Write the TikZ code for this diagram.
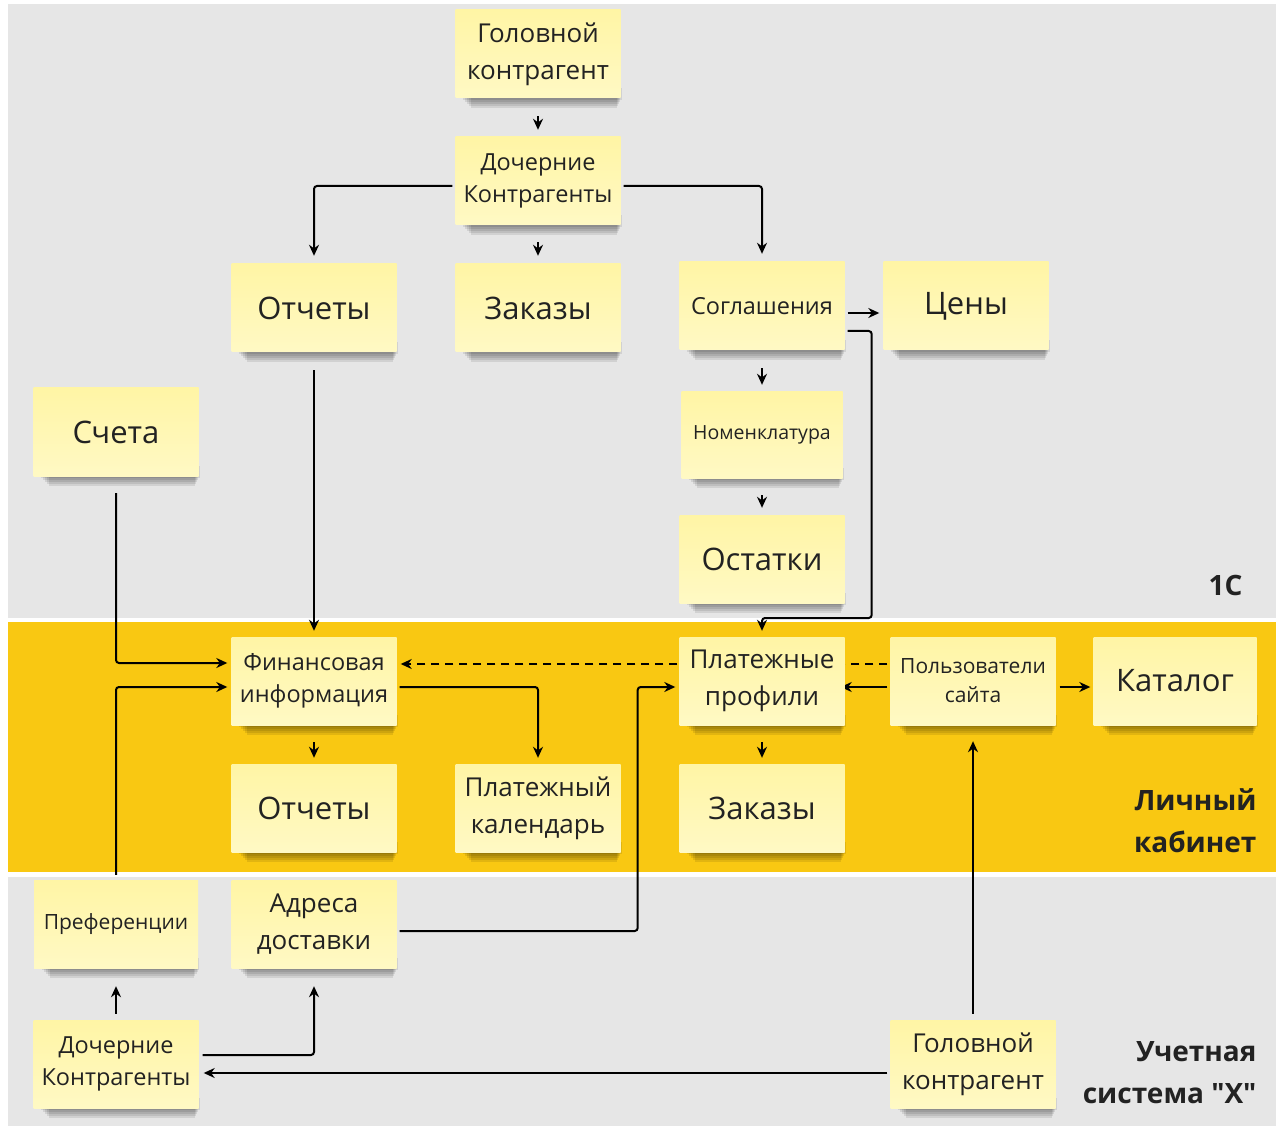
\documentclass[tikz,border=0pt]{standalone}
\usepackage{fontspec}
\setmainfont{Open Sans}
\newfontfamily\lblfont{Open Sans}[Ligatures=TeXOff]
\usetikzlibrary{arrows.meta}
\definecolor{bandgray}{RGB}{230,230,230}
\definecolor{bandyellow}{RGB}{249,200,18}
\definecolor{notetop}{RGB}{255,245,165}
\definecolor{notebot}{RGB}{255,249,196}
\definecolor{txt}{RGB}{34,34,34}
\pgfdeclarelayer{bands}
\pgfdeclarelayer{shade}
\pgfdeclarelayer{links}
\pgfsetlayers{bands,shade,links,main}
\tikzset{
  note/.style={rectangle, minimum width=165pt, minimum height=88pt, inner sep=0pt,
    top color=notetop, bottom color=notebot, align=center, text=txt},
  fxl/.style={font=\fontsize{31}{38}\selectfont},
  fl/.style={font=\fontsize{26}{37}\selectfont},
  fm/.style={font=\fontsize{23.5}{32}\selectfont},
  fs/.style={font=\fontsize{21}{29}\selectfont},
  fxs/.style={font=\fontsize{19.5}{24}\selectfont},
  link/.style={line width=2pt, draw=black, rounded corners=3pt, -{Stealth[length=11pt,width=10pt]}},
  dashlink/.style={line width=2pt, draw=black, dash pattern=on 8pt off 6pt, -{Stealth[length=11pt,width=10pt]}},
  bandlabel/.style={font=\lblfont\bfseries\fontsize{28}{42}\selectfont, text=txt, align=right, anchor=east},
  shadowpart/.style={fill=black, opacity=0.09}
}
\begin{document}
\begin{tikzpicture}[x=1pt,y=-1pt]
\useasboundingbox (0,0) rectangle (1280,1131);
\begin{pgfonlayer}{bands}
\fill[white] (0,0) rectangle (1280,1131);
\fill[bandgray] (8,4) rectangle (1276,618);
\fill[bandyellow] (8,622) rectangle (1276,872);
\fill[bandgray] (8,877) rectangle (1276,1126);
\end{pgfonlayer}

\node[bandlabel] (l1) at (1246,585) {1С};
\node[bandlabel] (l2) at (1260,821) {Личный\\кабинет};
\node[bandlabel] (l3) at (1260,1073) {Учетная\\система "X"};

\node[note,fl] (hk1) at (538,54) {Головной\\контрагент};
\node[note,fm] (dk1) at (538,181) {Дочерние\\Контрагенты};
\node[note,fxl] (otch1) at (314,308) {Отчеты};
\node[note,fxl] (zak1) at (538,308) {Заказы};
\node[note,fm] (sogl) at (762,306) {Соглашения};
\node[note,fxl] (ceny) at (966,306) {Цены};
\node[note,fxl] (scheta) at (116,432) {Счета};
\node[note,fxs,minimum width=161pt,minimum height=86pt] (nom) at (762,435) {Номенклатура};
\node[note,fxl] (ost) at (762,559) {Остатки};
\node[note,fm] (fin) at (314,681) {Финансовая\\информация};
\node[note,fl] (plat) at (762,681) {Платежные\\профили};
\node[note,fs] (polz) at (973,681) {Пользователи\\сайта};
\node[note,fxl,minimum width=163pt] (katalog) at (1175,681) {Каталог};
\node[note,fxl] (otch2) at (314,808) {Отчеты};
\node[note,fl] (kal) at (538,808) {Платежный\\календарь};
\node[note,fxl] (zak2) at (762,808) {Заказы};
\node[note,fs,minimum width=164pt] (pref) at (116,924) {Преференции};
\node[note,fl] (addr) at (314,924) {Адреса\\доставки};
\node[note,fm] (dk2) at (116,1064) {Дочерние\\Контрагенты};
\node[note,fl] (hk2) at (973,1064) {Головной\\контрагент};

\begin{pgfonlayer}{shade}
\foreach \n in {hk1,dk1,otch1,zak1,sogl,ceny,scheta,nom,ost,fin,plat,polz,katalog,otch2,kal,zak2,pref,addr,dk2,hk2}{
  \foreach \k in {2,4,6,8,10}{
    \fill[shadowpart] ([xshift={6pt+\k pt},yshift=10pt]\n.south west) rectangle ([xshift={2pt-0.6*\k pt},yshift=-\k pt]\n.south east);
  }
}
\end{pgfonlayer}

\begin{pgfonlayer}{links}
\draw[link] ([yshift=-18pt]hk1.south) -- ([yshift=7pt]dk1.north);
\draw[link] ([yshift=-17pt]dk1.south) -- ([yshift=8pt]zak1.north);
\draw[link] ([xshift=-3pt,yshift=-5pt]dk1.west) -| ([yshift=8pt]otch1.north);
\draw[link] ([xshift=3pt,yshift=-5pt]dk1.east) -| ([yshift=8pt]sogl.north);
\draw[link] ([xshift=3pt,yshift=-7pt]sogl.east) -- ([xshift=-4pt,yshift=-7pt]ceny.west);
\draw[link] ([xshift=3pt,yshift=-25pt]sogl.east) -- ++(24,0) -- ++(0,287) -| ([yshift=6pt]plat.north);
\draw[link] ([yshift=-18pt]sogl.south) -- ([yshift=7pt]nom.north);
\draw[link] ([yshift=-17pt]nom.south) -- ([yshift=7pt]ost.north);
\draw[link] ([yshift=-18pt]otch1.south) -- ([yshift=6pt]fin.north);
\draw[link] ([yshift=-17pt]scheta.south) |- ([xshift=-4pt,yshift=18pt]fin.west);
\draw[link] ([yshift=5pt]pref.north) |- ([xshift=-4pt,yshift=-6pt]fin.west);
\draw[link] ([xshift=3pt,yshift=-6pt]fin.east) -| ([yshift=6pt]kal.north);
\draw[link] ([yshift=-17pt]fin.south) -- ([yshift=6pt]otch2.north);
\draw[dashlink] ([xshift=-3pt,yshift=17pt]polz.west) -- ([xshift=4pt,yshift=17pt]fin.east);
\draw[link] ([xshift=-3pt,yshift=-6pt]polz.west) -- ([xshift=-4pt,yshift=-6pt]plat.east);
\draw[link] ([xshift=4pt,yshift=-6pt]polz.east) -- ([xshift=-3pt,yshift=-6pt]katalog.west);
\draw[link] ([yshift=-17pt]plat.south) -- ([yshift=6pt]zak2.north);
\draw[link] ([xshift=3pt,yshift=-7pt]addr.east) -- ++(238,0) |- ([xshift=-4pt,yshift=-6pt]plat.west);
\draw[link] ([yshift=6pt]hk2.north) -- ([yshift=-16pt]polz.south);
\draw[link] ([xshift=-3pt,yshift=-9pt]hk2.west) -- ([xshift=5pt,yshift=-9pt]dk2.east);
\draw[link] ([xshift=4pt,yshift=9pt]dk2.east) -| ([yshift=-18pt]addr.south);
\draw[link] ([yshift=6pt]dk2.north) -- ([yshift=-18pt]pref.south);
\end{pgfonlayer}
\end{tikzpicture}
\end{document}
